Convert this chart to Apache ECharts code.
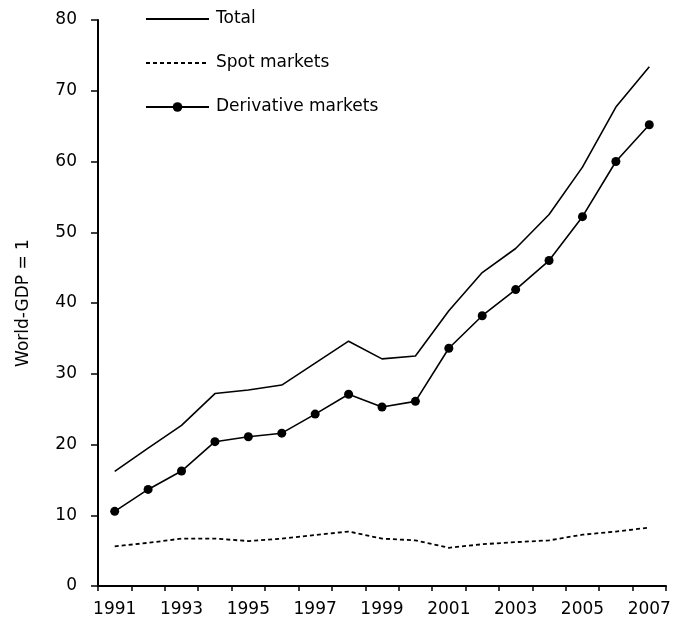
<!DOCTYPE html>
<html>
<head>
<meta charset="utf-8">
<script src="https://cdn.jsdelivr.net/npm/echarts@6/dist/echarts.min.js"></script>
<style>
  html, body { margin: 0; padding: 0; background: #fff; }
  #chart { width: 674px; height: 630px; }
</style>
</head>
<body>
<div id="chart"></div>
<script>
  // values (multiples of world GDP)
  const years = ['1991', '1992', '1993', '1994', '1995', '1996', '1997', '1998', '1999',
    '2000', '2001', '2002', '2003', '2004', '2005', '2006', '2007']
  const total = [16.2, 19.5, 22.7, 27.2, 27.7, 28.4, 31.5, 34.6, 32.1,
    32.5, 38.9, 44.3, 47.7, 52.5, 59.2, 67.7, 73.4]
  const spot = [5.6, 6.1, 6.7, 6.7, 6.35, 6.7, 7.2, 7.7, 6.7,
    6.45, 5.4, 5.9, 6.2, 6.45, 7.25, 7.7, 8.25]
  const derivative = [10.55, 13.65, 16.25, 20.4, 21.1, 21.6, 24.3, 27.1, 25.3,
    26.1, 33.6, 38.2, 41.9, 46.0, 52.2, 60.0, 65.2]

  const font = 'DejaVu Sans'
  const ink = '#000'
  // lines without markers: hide the dot the legend adds in the middle
  const noDot = { color: 'rgba(0,0,0,0)', borderWidth: 0, opacity: 0 }

  const myChart = echarts.init(document.getElementById('chart'))
  myChart.setOption({
    animation: false,
    textStyle: { fontFamily: font, color: ink },
    grid: { left: 98, right: 8, top: 20, bottom: 44 },
    legend: {
      orient: 'vertical',
      left: 145,
      top: 9,
      padding: 0,
      itemWidth: 63,
      itemHeight: 12,
      itemGap: 24,
      textStyle: { fontFamily: font, fontSize: 17, color: ink, lineHeight: 20, padding: [0, 0, 0, 2] },
      data: [
        { name: 'Total', itemStyle: noDot },
        { name: 'Spot markets', itemStyle: noDot },
        { name: 'Derivative markets' }
      ]
    },
    xAxis: {
      type: 'category',
      boundaryGap: true,
      data: years,
      axisLine: { lineStyle: { color: ink, width: 2 } },
      axisTick: { show: true, interval: 0, length: 5, lineStyle: { color: ink, width: 1.5 } },
      axisLabel: { interval: 1, margin: 15, fontSize: 17, color: ink, fontFamily: font },
      splitLine: { show: false }
    },
    yAxis: {
      type: 'value',
      min: 0,
      max: 80,
      interval: 10,
      name: 'World-GDP = 1',
      nameLocation: 'middle',
      nameGap: 66,
      nameTextStyle: { fontSize: 17, color: ink, fontFamily: font },
      axisLine: { show: true, lineStyle: { color: ink, width: 2 } },
      axisTick: { show: true, length: 7, lineStyle: { color: ink, width: 1.5 } },
      axisLabel: { margin: 21, fontSize: 17, color: ink, fontFamily: font },
      splitLine: { show: false }
    },
    series: [{
      name: 'Total',
      type: 'line',
      data: total,
      symbol: 'none',
      lineStyle: { color: ink, width: 1.6 },
      itemStyle: { color: ink }
    }, {
      name: 'Spot markets',
      type: 'line',
      data: spot,
      symbol: 'none',
      lineStyle: { color: ink, width: 1.8, type: [4, 3] },
      itemStyle: { color: ink }
    }, {
      name: 'Derivative markets',
      type: 'line',
      data: derivative,
      symbol: 'circle',
      symbolSize: 9,
      lineStyle: { color: ink, width: 1.6 },
      itemStyle: { color: ink }
    }]
  })
</script>
</body>
</html>
